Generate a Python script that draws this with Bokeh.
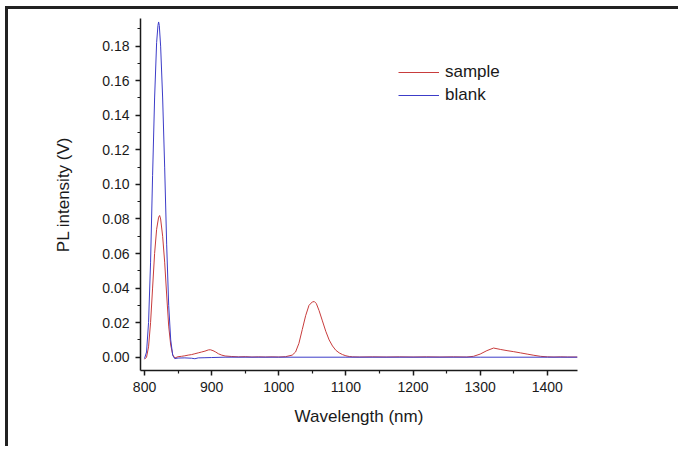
from bokeh.plotting import figure
from bokeh.models import FixedTicker, NumeralTickFormatter, Legend, LegendItem, Range1d
from bokeh.embed import file_html
from bokeh.resources import INLINE

# Sample (red) spectrum
sample_x = [800, 803, 806, 809, 812, 815, 818, 821, 822.5, 824, 827, 830, 833, 836, 839, 842,
            845, 850, 855, 860, 865, 870, 875, 880, 885, 890, 895, 898, 902, 906, 910, 915,
            920, 930, 940, 950, 960, 970, 980, 990, 1000, 1010, 1020, 1025, 1030, 1035, 1040,
            1045, 1050, 1053, 1056, 1060, 1065, 1070, 1075, 1080, 1085, 1090, 1095, 1100, 1105,
            1110, 1120, 1140, 1160, 1180, 1200, 1220, 1240, 1260, 1280, 1290, 1300, 1310, 1320,
            1330, 1340, 1350, 1360, 1370, 1380, 1390, 1400, 1410, 1420, 1430, 1445]
sample_y = [-0.0012, 0.000, 0.006, 0.020, 0.040, 0.060, 0.074, 0.081, 0.082, 0.080, 0.070, 0.055,
            0.036, 0.018, 0.007, 0.0015, -0.0005, 0.0003, 0.0005, 0.0008, 0.0012, 0.0015, 0.002,
            0.0025, 0.003, 0.0035, 0.0042, 0.0043, 0.0038, 0.003, 0.002, 0.0012, 0.0007, 0.0004,
            0.0002, 0.0003, 0.0001, 0.0002, 0.0001, 0.0002, 0.0001, 0.0003, 0.0012, 0.003, 0.008,
            0.016, 0.024, 0.030, 0.032, 0.0322, 0.031, 0.027, 0.021, 0.015, 0.010, 0.0065, 0.004,
            0.0025, 0.0015, 0.0008, 0.0004, 0.0002, 0.0001, 0.0002, 0.0001, 0.0002, 0.0001,
            0.0002, 0.0001, 0.0002, 0.0001, 0.0005, 0.0018, 0.0038, 0.0053, 0.0045, 0.0038,
            0.0032, 0.0025, 0.0018, 0.0011, 0.0005, 0.0002, 0.0001, 0.0002, 0.0001, 0.0001]

# Blank (blue) spectrum
blank_x = [800, 803, 806, 809, 812, 815, 818, 820, 821, 822, 824, 827, 830, 833, 836, 839, 842,
           845, 850, 860, 870, 875, 880, 890, 900, 920, 1000, 1100, 1200, 1300, 1400, 1445]
blank_y = [-0.0008, 0.003, 0.020, 0.055, 0.105, 0.150, 0.182, 0.192, 0.194, 0.192, 0.180, 0.150,
           0.110, 0.065, 0.030, 0.010, 0.001, -0.0008, -0.0005, -0.0004, -0.0006, -0.0009,
           -0.0004, -0.0003, -0.0002, 0.0, 0.0, 0.0, 0.0, 0.0, 0.0, 0.0]

x_major = [800, 900, 1000, 1100, 1200, 1300, 1400]
x_minor = [850, 950, 1050, 1150, 1250, 1350]
y_major = [0.00, 0.02, 0.04, 0.06, 0.08, 0.10, 0.12, 0.14, 0.16, 0.18]
y_minor = [0.01, 0.03, 0.05, 0.07, 0.09, 0.11, 0.13, 0.15, 0.17, 0.19]

FONT = "Liberation Sans"
INK = "#1a1a1a"
RED = "#c83c3c"
BLUE = "#3c3cc8"

p = figure(width=673, height=440, output_backend="svg", toolbar_location=None,
           x_range=Range1d(794, 1445), y_range=Range1d(-0.0077, 0.196),
           min_border_left=132, min_border_top=9, min_border_right=104, min_border_bottom=79)
p.outline_line_color = None
p.grid.visible = False
p.background_fill_color = "white"
p.border_fill_color = "white"

r1 = p.line(sample_x, sample_y, line_color=RED, line_width=1)
r2 = p.line(blank_x, blank_y, line_color=BLUE, line_width=1)

for ax in (p.xaxis[0], p.yaxis[0]):
    ax.axis_line_color = INK
    ax.axis_line_width = 1.5
    ax.major_tick_line_color = INK
    ax.minor_tick_line_color = INK
    ax.major_tick_line_width = 1.5
    ax.minor_tick_line_width = 1.2
    ax.major_tick_in = 0
    ax.major_tick_out = 5
    ax.minor_tick_in = 0
    ax.minor_tick_out = 3
    ax.major_label_text_font = FONT
    ax.major_label_text_font_size = "14px"
    ax.major_label_text_color = INK
    ax.axis_label_text_font = FONT
    ax.axis_label_text_font_size = "17px"
    ax.axis_label_text_font_style = "normal"
    ax.axis_label_text_color = INK

p.xaxis[0].ticker = FixedTicker(ticks=x_major, minor_ticks=x_minor)
p.yaxis[0].ticker = FixedTicker(ticks=y_major, minor_ticks=y_minor)
p.yaxis[0].formatter = NumeralTickFormatter(format="0.00")
p.xaxis[0].axis_label = "Wavelength (nm)"
p.yaxis[0].axis_label = "PL intensity (V)"
p.xaxis[0].major_label_standoff = 6
p.yaxis[0].major_label_standoff = 6
p.xaxis[0].axis_label_standoff = 12
p.yaxis[0].axis_label_standoff = 26

legend = Legend(items=[LegendItem(label="sample", renderers=[r1]),
                       LegendItem(label="blank", renderers=[r2])],
                location=(258, 265), padding=0, margin=0, spacing=3,
                glyph_width=41, glyph_height=20, label_height=20, label_standoff=6,
                label_text_font=FONT, label_text_font_size="17px", label_text_color=INK,
                border_line_color=None, background_fill_alpha=0)
p.add_layout(legend)

p.styles = {"border-top": "3px solid #222", "border-left": "3px solid #222",
            "margin-left": "5px", "margin-top": "6px"}

open("out.html", "w").write(file_html(p, INLINE))
